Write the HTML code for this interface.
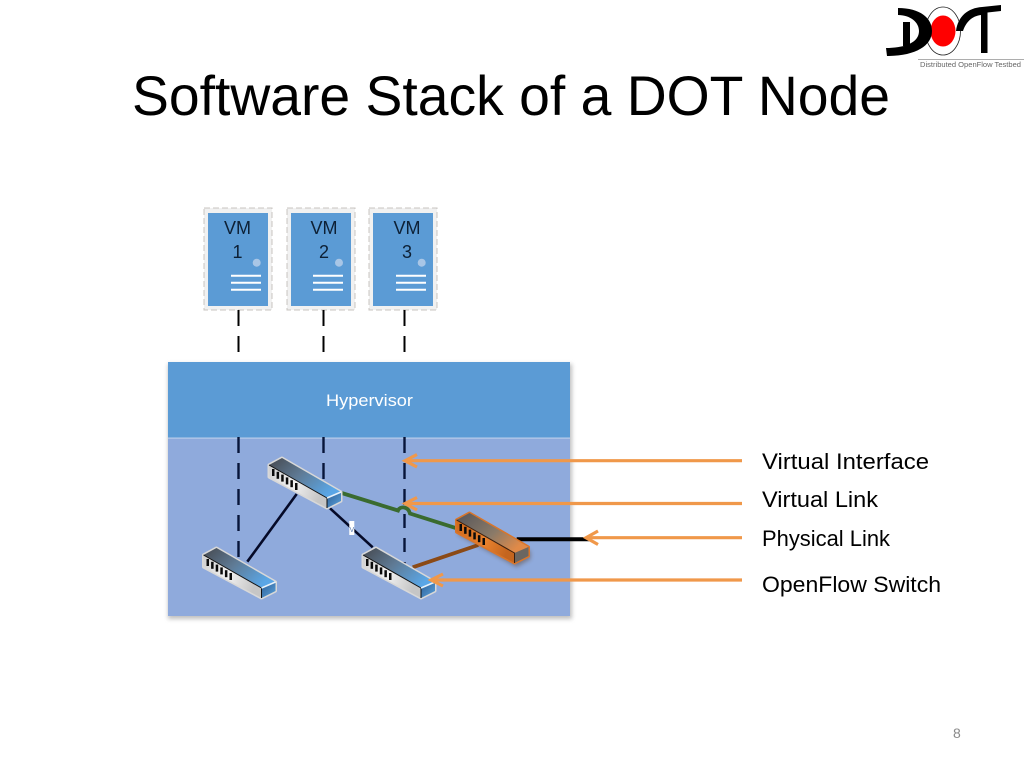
<!DOCTYPE html>
<html>
<head>
<meta charset="utf-8">
<style>
html,body{margin:0;padding:0;background:#fff;width:1024px;height:768px;overflow:hidden}
svg{display:block}
text{font-family:"Liberation Sans",sans-serif}
</style>
</head>
<body>
<svg width="1024" height="768" viewBox="0 0 1024 768" xmlns="http://www.w3.org/2000/svg">
<defs>
<linearGradient id="top" x1="0" y1="0" x2="1" y2="0.6"><stop offset="0" stop-color="#45484e"/><stop offset="0.5" stop-color="#5f7b96"/><stop offset="1" stop-color="#5aa6e6"/></linearGradient>
<linearGradient id="front" x1="0" y1="0" x2="1" y2="0.3"><stop offset="0" stop-color="#cfcfcf"/><stop offset="0.5" stop-color="#f2f2f2"/><stop offset="1" stop-color="#c6c6c6"/></linearGradient>
<linearGradient id="end" x1="0" y1="0" x2="1" y2="1"><stop offset="0" stop-color="#2d5f96"/><stop offset="1" stop-color="#5aa2dc"/></linearGradient>
<linearGradient id="otop" x1="0" y1="0" x2="1" y2="0.6"><stop offset="0" stop-color="#55555a"/><stop offset="0.6" stop-color="#8a7a68"/><stop offset="1" stop-color="#e08a48"/></linearGradient>
<linearGradient id="ofront" x1="0" y1="0" x2="1" y2="0.3"><stop offset="0" stop-color="#d06a1c"/><stop offset="0.6" stop-color="#e8812e"/><stop offset="1" stop-color="#c4651e"/></linearGradient>
<filter id="sh" x="-10%" y="-10%" width="120%" height="120%"><feGaussianBlur stdDeviation="2"/></filter>
<g id="ticks" fill="#0a0a0a">
<rect x="3" y="11" width="2.5" height="7"/><rect x="7.6" y="13.8" width="2.5" height="7"/><rect x="12.2" y="16.6" width="2.5" height="7"/><rect x="16.8" y="19.4" width="2.5" height="7"/><rect x="21.4" y="22.2" width="2.5" height="7"/><rect x="26" y="25" width="2.5" height="7"/>
</g>
<g id="sw">
<path d="M0,7 L13,0 L72,34 L72,43 L58,50 L0,19Z" fill="#e4e4e4" stroke="#d8d8d8" stroke-width="3" stroke-linejoin="round"/>
<path d="M0,7 L13,0 L72,34 L58,40Z" fill="url(#top)"/>
<path d="M0,7 L58,40 L58,50 L0,19Z" fill="url(#front)"/>
<path d="M58,40 L72,34 L72,43 L58,50Z" fill="url(#end)"/>
<path d="M0,7 L58,40 L58,50" fill="none" stroke="#111" stroke-width="1"/>
<path d="M58,40 L72,34" fill="none" stroke="#e8f2fa" stroke-width="1.5"/>
<use href="#ticks"/>
</g>
<g id="osw">
<path d="M2,10 L74,38 L74,46 L60,54 L2,22Z" fill="#5a3a20" opacity="0.45" filter="url(#sh)"/>
<path d="M0,7 L13,0 L72,34 L72,43 L58,50 L0,19Z" fill="#e07a28" stroke="#d9752a" stroke-width="3" stroke-linejoin="round"/>
<path d="M0,7 L13,0 L72,34 L58,40Z" fill="url(#otop)"/>
<path d="M0,7 L58,40 L58,50 L0,19Z" fill="url(#ofront)"/>
<path d="M58,40 L72,34 L72,43 L58,50Z" fill="#6b6661"/>
<path d="M0,7 L58,40 L58,50" fill="none" stroke="#3a2010" stroke-width="1"/>
<use href="#ticks"/>
</g>
</defs>

<!-- Title -->
<text x="132" y="115" font-size="56" fill="#000" textLength="758" lengthAdjust="spacingAndGlyphs">Software Stack of a DOT Node</text>

<!-- Logo -->
<g>
<ellipse cx="943" cy="31" rx="17.5" ry="24" fill="#fff" stroke="#222" stroke-width="0.8"/>
<ellipse cx="943" cy="31" rx="12.5" ry="15.5" fill="#f00"/>
<path d="M898,8 C920,8 932,18 932,31 C932,46 915,56 887,56 L886,48 C904,48 919,43 919,31 C919,22 910,15 898,15Z" fill="#000"/>
<rect x="903" y="22" width="7" height="24" fill="#000"/>
<path d="M956,31 C958,16 968,8 982,7 L1001,5 L1001,11 L987.5,12.5 L987.5,53 L981,53 L981,15 C972,16 966,22 963,31Z" fill="#000"/>
<rect x="918" y="59" width="106" height="0.8" fill="#999"/>
<text x="920" y="67" font-size="7.5" fill="#666" textLength="101" lengthAdjust="spacingAndGlyphs">Distributed OpenFlow Testbed</text>
</g>

<!-- Main box -->
<rect x="168" y="364" width="404" height="255" fill="#8c8c8c" opacity="0.55" filter="url(#sh)"/>
<rect x="168" y="362" width="402" height="76" fill="#5b9bd5"/>
<rect x="168" y="438" width="402" height="178" fill="#8faadc"/>
<rect x="168" y="437.5" width="402" height="1.2" fill="#b9cdea"/>
<text x="326" y="406" font-size="17" fill="#fff" textLength="87" lengthAdjust="spacingAndGlyphs">Hypervisor</text>

<!-- VMs -->
<g>
<rect x="204" y="208" width="68" height="102" fill="#f1f1f1" stroke="#c8c4c0" stroke-dasharray="6 3"/>
<rect x="287" y="208" width="68" height="102" fill="#f1f1f1" stroke="#c8c4c0" stroke-dasharray="6 3"/>
<rect x="369" y="208" width="68" height="102" fill="#f1f1f1" stroke="#c8c4c0" stroke-dasharray="6 3"/>
<rect x="208" y="213" width="60" height="93" fill="#5b9bd5"/>
<rect x="291" y="213" width="60" height="93" fill="#5b9bd5"/>
<rect x="373" y="213" width="60" height="93" fill="#5b9bd5"/>
<circle cx="256.7" cy="262.7" r="4" fill="#a9c6e6"/>
<circle cx="339" cy="262.7" r="4" fill="#a9c6e6"/>
<circle cx="421.7" cy="262.7" r="4" fill="#a9c6e6"/>
<g stroke="#fff" stroke-width="2">
<path d="M231,275.7H261M231,282.7H261M231,289.7H261"/>
<path d="M313,275.7H343M313,282.7H343M313,289.7H343"/>
<path d="M396,275.7H426M396,282.7H426M396,289.7H426"/>
</g>
<g font-size="18" fill="#0d2035" text-anchor="middle">
<text x="237.5" y="234">VM</text><text x="237.5" y="258">1</text>
<text x="324" y="234">VM</text><text x="324" y="258">2</text>
<text x="407" y="234">VM</text><text x="407" y="258">3</text>
</g>
</g>

<!-- Dashed verticals -->
<g stroke="#000" stroke-width="2" stroke-dasharray="16 10" fill="none">
<path d="M238.5,310V352M323.5,310V352M404.5,310V352"/>
</g>
<g stroke="#07153a" stroke-width="2.4" stroke-dasharray="16 10" fill="none">
<path d="M238.5,437V568M323.5,437V480M404.5,437V505"/>
<path d="M404.5,514V567" stroke-dasharray="14 10"/>
</g>

<!-- Links -->
<path d="M296.7,494L247.3,561.7" stroke="#050a28" stroke-width="2.6" fill="none"/>
<path d="M330,508.3L372.7,547.3" stroke="#050a28" stroke-width="2.6" fill="none"/>
<rect x="349.3" y="521" width="5" height="14" fill="#fff"/>
<text x="351.8" y="532" font-size="7" fill="#5b7cb0" text-anchor="middle">V</text>
<path d="M341.7,493L398,510.5C400,506 408,506 410,513.5L456.7,528.3" stroke="#3a6b2f" stroke-width="3.8" fill="none"/>
<path d="M478.3,545L412.7,567.3" stroke="#8b4a16" stroke-width="3.8" fill="none"/>
<path d="M516.7,539.3H590" stroke="#000" stroke-width="4" fill="none"/>

<!-- Switches -->
<use href="#sw" x="269" y="458"/>
<use href="#sw" x="203.5" y="548"/>
<use href="#sw" x="363" y="548"/>
<use href="#osw" x="456.5" y="513"/>

<!-- Orange arrows -->
<g stroke="#f0984a" stroke-width="3.2" fill="none">
<path d="M742,460.7H405"/><path d="M417,454.5L405,460.7L417,467"/>
<path d="M742,503.5H405"/><path d="M417,497.5L405,503.5L417,510"/>
<path d="M742,537.7H586"/><path d="M598,531L586,537.7L598,544.5"/>
<path d="M742,580H431"/><path d="M443,574L431,580L443,586"/>
</g>

<!-- Labels -->
<g font-size="22" fill="#000">
<text x="762" y="469" textLength="167" lengthAdjust="spacingAndGlyphs">Virtual Interface</text>
<text x="762" y="507" textLength="116" lengthAdjust="spacingAndGlyphs">Virtual Link</text>
<text x="762" y="546" textLength="128" lengthAdjust="spacingAndGlyphs">Physical Link</text>
<text x="762" y="592" textLength="179" lengthAdjust="spacingAndGlyphs">OpenFlow Switch</text>
</g>

<text x="953" y="738" font-size="14" fill="#8a8a8a">8</text>
</svg>
</body>
</html>
